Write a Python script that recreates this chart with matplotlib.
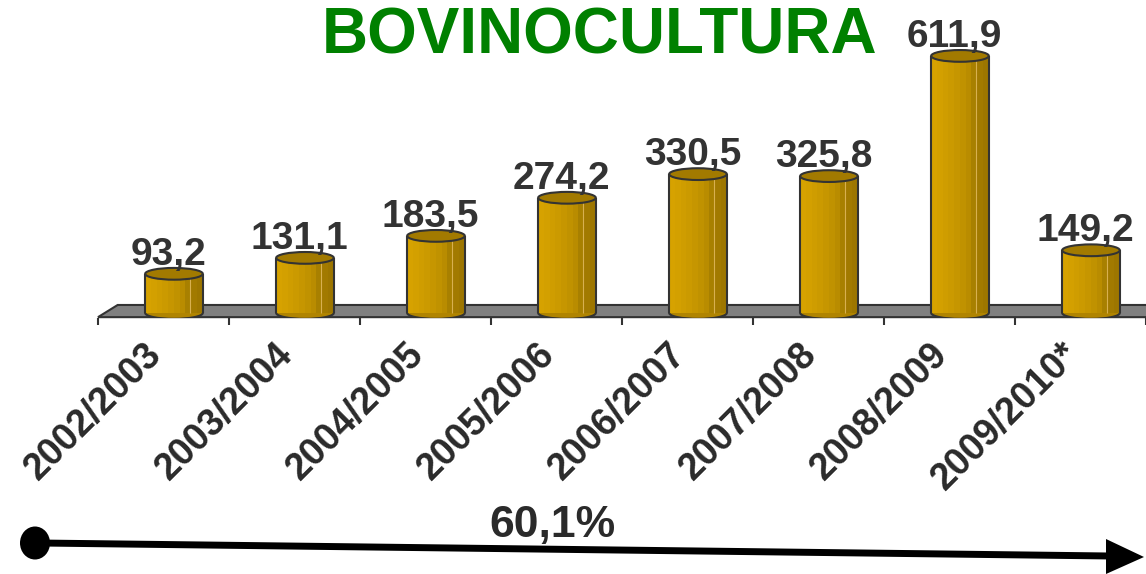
import numpy as np
import matplotlib
matplotlib.use("Agg")
from matplotlib import pyplot as plt
from matplotlib.patches import Ellipse, Polygon

plt.rcParams['font.family'] = ['Liberation Sans', 'DejaVu Sans']

safras = ['2002/2003', '2003/2004', '2004/2005', '2005/2006',
          '2006/2007', '2007/2008', '2008/2009', '2009/2010*']
valores = [93.2, 131.1, 183.5, 274.2, 330.5, 325.8, 611.9, 149.2]
rotulos = ['93,2', '131,1', '183,5', '274,2', '330,5', '325,8', '611,9', '149,2']
titulo = 'BOVINOCULTURA'
crescimento = '60,1%'

W, H = 1146, 574
fig = plt.figure(figsize=(W / 100, H / 100), dpi=100)

# axes das barras: y=0 na base dos cilindros
ax = fig.add_axes([98 / W, (H - 318) / H, 1048 / W, 318 / H])
ax.set_xlim(-0.5, 7.5)
ax.set_ylim(-12, 745)
for s in ax.spines.values():
    s.set_visible(False)
ax.set_yticks([])
ax.set_xticks(np.arange(-0.5, 8.5, 1))
ax.set_xticklabels([])
ax.tick_params(axis='x', length=5, width=1.5, color='#333333', direction='out')

# piso cinza
piso = Polygon([(-0.5, -10), (7.6, -10), (7.75, 19), (-0.35, 19)], closed=True,
               facecolor='#808080', edgecolor='#333333', lw=1.5, zorder=1,
               clip_on=False)
ax.add_patch(piso)

x = np.arange(len(valores)) + 0.08
bw = 0.44
eh = 28
n = 10
cores = ['#d6a200', '#d3a000', '#cf9d00', '#cb9a00', '#c69600',
         '#c09200', '#b98c00', '#a88000', '#a27a00', '#9d7600']
sw = bw / n
for k in range(n):
    ax.bar(x - bw / 2 + (k + 0.5) * sw, valores, width=sw * 1.05, bottom=0,
           color=cores[k], linewidth=0, zorder=3)
ax.vlines(x - bw / 2 + 0.78 * bw, 0, valores, color='#d8b050', lw=0.8, zorder=3.5)

for xi, v in zip(x, valores):
    ax.add_patch(Ellipse((xi, 0), bw, eh, facecolor='#b08400',
                         edgecolor='#333333', lw=1.5, zorder=2))
    ax.vlines([xi - bw / 2, xi + bw / 2], 0, v, color='#333333', lw=1.5, zorder=4)
    ax.add_patch(Ellipse((xi, v), bw, eh, facecolor='#a27a00',
                         edgecolor='#333333', lw=1.5, zorder=5))

for xi, v, r in zip(x, valores, rotulos):
    ax.text(xi - 0.04, v + 22, r, ha='center', va='baseline', fontsize=28,
            fontweight='bold', color='#333333', zorder=6, clip_on=False)

for i, s in enumerate(safras):
    ax.text(i - 0.15, -55, s, rotation=45, rotation_mode='anchor', ha='right',
            va='top', fontsize=27, fontweight='bold', color='#2a2a2a',
            clip_on=False)

# camada em pixels para titulo e seta
ov = fig.add_axes([0, 0, 1, 1])
ov.set_xlim(0, W)
ov.set_ylim(H, 0)
ov.axis('off')
ov.patch.set_alpha(0)

ov.text(600, 53, titulo, ha='center', va='baseline', fontsize=46,
        fontweight='bold', color='#008000')

ov.plot([40, 1110], [543, 556], color='black', lw=5, solid_capstyle='butt')
ov.add_patch(Ellipse((35, 543), 30, 33, facecolor='black', edgecolor='none'))
ov.add_patch(Polygon([(1106, 539), (1144, 557), (1106, 574)], closed=True,
                     facecolor='black', edgecolor='none'))
ov.text(552, 537, crescimento, ha='center', va='baseline', fontsize=32,
        fontweight='bold', color='#2a2a2a')

fig.savefig('out.png', dpi=100)
